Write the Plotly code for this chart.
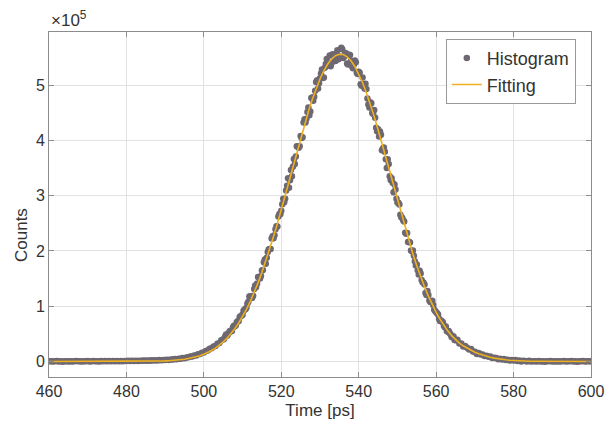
import numpy as np
import plotly.graph_objects as go

# ---- data (counts in units of 1e5) ----
# histogram samples on a 0.5 ps grid
hist_time = np.arange(460, 600.25, 0.5)
hist_counts = [
    # 460 - 489.5
    0.004, 0.007, 0.001, 0.005, 0.008, 0.002, 0.006, -0.002, 0.004, 0.007,
    0.002, 0.006, -0.001, 0.005, 0.008, 0.003, 0.006, 0.000, 0.007, 0.004,
    0.008, 0.002, 0.006, 0.009, 0.003, 0.007, 0.002, 0.008, 0.004, 0.009,
    0.005, 0.008, 0.004, 0.010, 0.006, 0.009, 0.005, 0.011, 0.007, 0.010,
    0.008, 0.012, 0.008, 0.013, 0.009, 0.014, 0.011, 0.015, 0.012, 0.017,
    0.013, 0.018, 0.015, 0.021, 0.017, 0.023, 0.020, 0.026, 0.023, 0.029,
    # 490 - 511.5
    0.027, 0.032, 0.029, 0.037, 0.035, 0.044, 0.043, 0.052, 0.051, 0.063,
    0.061, 0.074, 0.075, 0.089, 0.092, 0.108, 0.111, 0.131, 0.135, 0.158,
    0.164, 0.192, 0.199, 0.230, 0.238, 0.272, 0.281, 0.322, 0.336, 0.383,
    0.398, 0.451, 0.466, 0.527, 0.547, 0.614, 0.636, 0.711, 0.735, 0.818,
    0.848, 0.943, 0.972, 1.083,
    # 512 - 585
    1.182, 1.152, 1.311, 1.347, 1.530, 1.501, 1.647, 1.796, 1.770, 1.980,
    2.036, 2.223, 2.228, 2.394, 2.440, 2.669, 2.725, 2.944, 2.942, 3.180,
    3.142, 3.466, 3.525, 3.572, 3.895, 3.867, 4.078, 4.057, 4.384, 4.393,
    4.594, 4.522, 4.774, 4.789, 5.055, 4.939, 5.122, 5.281, 5.139, 5.380,
    5.357, 5.535, 5.400, 5.526, 5.436, 5.629, 5.522, 5.675, 5.492, 5.580,
    5.392, 5.548, 5.440, 5.304, 5.444, 5.222, 5.239, 5.015, 5.139, 4.938,
    4.930, 4.647, 4.689, 4.494, 4.551, 4.227, 4.203, 4.162, 3.821, 3.872,
    3.660, 3.660, 3.349, 3.313, 3.061, 3.112, 2.878, 2.842, 2.610, 2.550,
    2.329, 2.324, 2.165, 2.006, 2.008, 1.812, 1.755, 1.572, 1.591, 1.436,
    1.393, 1.204, 1.204, 1.078, 1.099, 0.938, 0.892, 0.851, 0.735, 0.725,
    0.648, 0.632, 0.537, 0.518, 0.445, 0.452, 0.384, 0.396, 0.325, 0.326,
    0.270, 0.282, 0.250, 0.216, 0.228, 0.182, 0.176, 0.137, 0.156, 0.128,
    0.126, 0.101, 0.103, 0.086, 0.090, 0.065, 0.066, 0.065, 0.040, 0.050,
    0.038, 0.045, 0.026, 0.030, 0.017, 0.029, 0.017, 0.027, 0.010, 0.017,
    0.001, 0.016, 0.008, 0.000, 0.015, 0.001, 0.007,
    # 585.5 - 600
    0.006, 0.001, 0.008, 0.002, 0.005, -0.002, 0.007, 0.003, 0.009, 0.000,
    0.005, 0.002, 0.007, -0.001, 0.004, 0.008, 0.001, 0.006, 0.003, 0.009,
    0.002, 0.005, -0.002, 0.006, 0.004, 0.008, 0.001, 0.005, 0.003, 0.006,
]

# extra histogram samples at the in-between bins (505.25 ... 564.75 ps)
hist_time_mid = np.arange(505.25, 565.0, 0.5)
hist_counts_mid = [
    0.413, 0.487, 0.494, 0.552, 0.553, 0.649, 0.657, 0.728, 0.807, 0.831,
    0.918, 0.944, 1.049, 1.175, 1.150, 1.189, 1.375, 1.411, 1.526, 1.546,
    1.655, 1.846, 1.879, 2.026, 2.035, 2.264, 2.283, 2.445, 2.621, 2.662,
    2.845, 2.882, 3.091, 3.317, 3.280, 3.352, 3.662, 3.710, 3.887, 3.895,
    4.044, 4.323, 4.323, 4.512, 4.456, 4.768, 4.716, 4.898, 5.087, 5.031,
    5.208, 5.126, 5.314, 5.471, 5.356, 5.342, 5.559, 5.505, 5.575, 5.468,
    5.497, 5.650, 5.518, 5.570, 5.374, 5.542, 5.342, 5.374, 5.411, 5.201,
    5.223, 4.987, 5.021, 5.024, 4.759, 4.596, 4.670, 4.475, 4.407, 4.167,
    4.069, 4.100, 3.853, 3.796, 3.498, 3.571, 3.283, 3.235, 3.201, 2.943,
    2.871, 2.653, 2.598, 2.531, 2.313, 2.161, 2.152, 1.993, 1.914, 1.738,
    1.650, 1.641, 1.475, 1.425, 1.239, 1.274, 1.103, 1.075, 1.021, 0.915,
    0.873, 0.772, 0.744, 0.712, 0.618, 0.553, 0.552, 0.487, 0.459, 0.391,
]

fit_time = np.arange(460, 601, 1)
fit_counts = [
    # 460 - 481
    0, 0, 0, 0, 0, 0, 0, 0, 0, 0, 0, 0, 0, 0, 0, 0, 0, 0, 0, 0, 0, 0,
    # 482 - 588
    0.001, 0.0015, 0.002, 0.003, 0.004, 0.005, 0.007, 0.009, 0.012, 0.015,
    0.020, 0.026, 0.033, 0.042, 0.054, 0.068, 0.085, 0.106, 0.132, 0.162,
    0.199, 0.242, 0.293, 0.353, 0.422, 0.502, 0.593, 0.697, 0.814, 0.944,
    1.089, 1.249, 1.423, 1.613, 1.817, 2.033, 2.259, 2.496, 2.746, 3.002,
    3.262, 3.525, 3.787, 4.042, 4.288, 4.522, 4.738, 4.935, 5.110, 5.259,
    5.381, 5.472, 5.532, 5.558, 5.552, 5.512, 5.440, 5.336, 5.203, 5.043,
    4.858, 4.653, 4.431, 4.191, 3.941, 3.684, 3.421, 3.157, 2.899, 2.645,
    2.399, 2.165, 1.945, 1.734, 1.535, 1.351, 1.183, 1.029, 0.889, 0.765,
    0.654, 0.555, 0.469, 0.393, 0.334, 0.284, 0.242, 0.204, 0.168, 0.139,
    0.115, 0.095, 0.077, 0.062, 0.049, 0.039, 0.031, 0.024, 0.018, 0.014,
    0.010, 0.007, 0.005, 0.004, 0.003, 0.002, 0.001,
    # 589 - 600
    0, 0, 0, 0, 0, 0, 0, 0, 0, 0, 0, 0,
]

x_ticks = [460, 480, 500, 520, 540, 560, 580, 600]
y_ticks = [0, 1, 2, 3, 4, 5]

assert len(hist_counts) == len(hist_time), (len(hist_counts), len(hist_time))
assert len(hist_counts_mid) == len(hist_time_mid), (len(hist_counts_mid), len(hist_time_mid))
assert len(fit_counts) == len(fit_time), (len(fit_counts), len(fit_time))

all_time = np.concatenate([hist_time, hist_time_mid])
all_counts = np.concatenate([hist_counts, hist_counts_mid])
order = np.argsort(all_time, kind="stable")

FONT = "Liberation Sans, Arial, sans-serif"
TXT = "#333333"

fig = go.Figure()
fig.add_trace(go.Scatter(
    x=all_time[order], y=all_counts[order], mode="markers", name="Histogram",
    marker=dict(size=6.5, color="#6e6872", line=dict(width=0)),
))
fig.add_trace(go.Scatter(
    x=fit_time, y=fit_counts, mode="lines", name="Fitting",
    line=dict(color="#EDB120", width=1.6),
))

axis_common = dict(
    showline=True, linecolor="#8c8c8c", linewidth=1, mirror="ticks",
    ticks="inside", ticklen=5, tickcolor="#8c8c8c",
    showgrid=True, gridcolor="#e2e2e2", gridwidth=1, zeroline=False,
    tickfont=dict(family=FONT, size=16, color=TXT), automargin=False,
)

fig.update_layout(
    width=608, height=423,
    margin=dict(l=49, r=17, t=32, b=46),
    paper_bgcolor="white", plot_bgcolor="white",
    font=dict(family=FONT, color=TXT),
    xaxis=dict(range=[460, 600], tickvals=x_ticks,
               title=dict(text="Time [ps]", font=dict(family=FONT, size=17, color=TXT), standoff=4),
               **axis_common),
    yaxis=dict(range=[-0.28, 5.96], tickvals=y_ticks, ticktext=[str(v) for v in y_ticks],
               **axis_common),
    showlegend=True,
    legend=dict(x=0.972, xanchor="right", y=0.98, yanchor="top",
                bgcolor="white", bordercolor="#999999", borderwidth=1,
                font=dict(family=FONT, size=18, color=TXT),
                itemwidth=30, tracegroupgap=0),
    annotations=[
        dict(text="Counts", textangle=-90, xref="paper", yref="paper",
             x=-0.0498, y=0.4116, xanchor="center", yanchor="middle",
             showarrow=False, font=dict(family=FONT, size=17, color=TXT)),
        dict(text="×10<sup>5</sup>", xref="paper", yref="paper",
             x=0.0, y=1.0, xanchor="left", yanchor="bottom", yshift=0,
             showarrow=False, font=dict(family=FONT, size=17, color=TXT)),
    ],
)

fig.write_html("out.html", config={"displayModeBar": False},
               post_script="document.body.style.margin='0';document.body.style.padding='0';")
